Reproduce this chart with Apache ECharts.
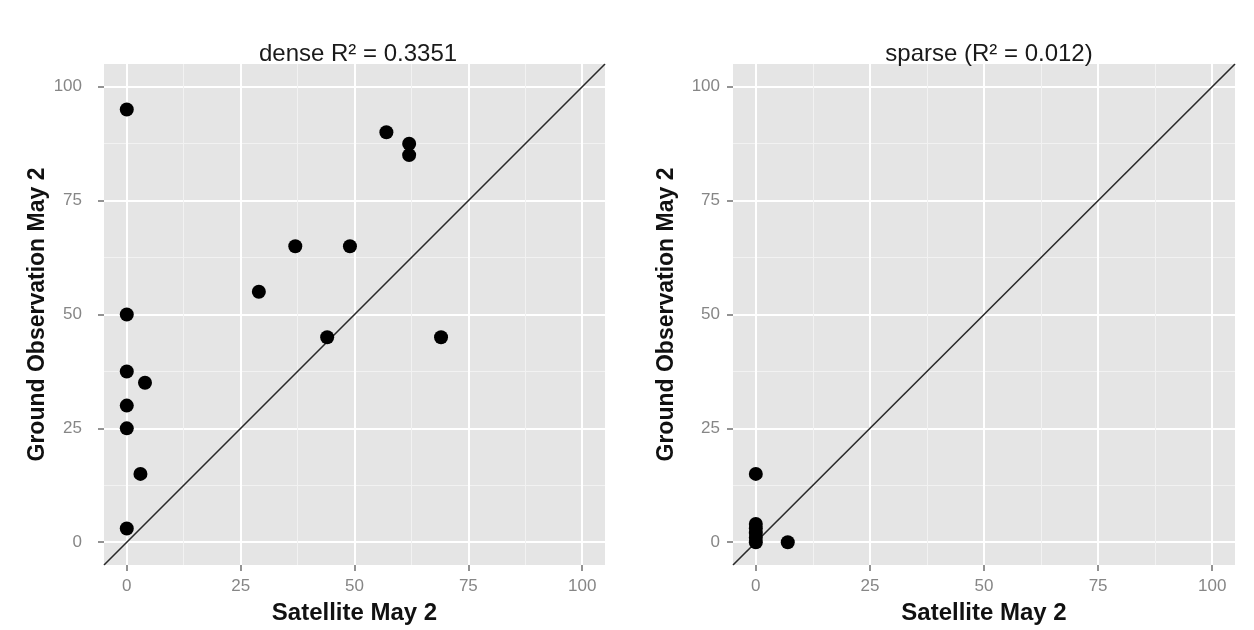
<!DOCTYPE html>
<html>
<head>
<meta charset="utf-8">
<script src="https://cdn.jsdelivr.net/npm/echarts@6/dist/echarts.min.js"></script>
<style>html,body{margin:0;padding:0;background:#fff;}#c{width:1254px;height:630px;}</style>
</head>
<body>
<div id="c"></div>
<script>
const majorTicks = [0, 25, 50, 75, 100];
const minorTicks = [12.5, 37.5, 62.5, 87.5];
const axisRange = [-5, 105];
const refLine = [-5, 105];

const titles = ['dense R\u00B2 = 0.3351', 'sparse (R\u00B2 = 0.012)'];
const xTitle = 'Satellite May 2';
const yTitle = 'Ground Observation May 2';

const denseX = [0, 57, 62, 62, 37, 49, 29, 0, 44, 69, 0, 4, 0, 0, 3, 0];
const denseY = [95, 90, 87.5, 85, 65, 65, 55, 50, 45, 45, 37.5, 35, 30, 25, 15, 3];
const sparseX = [0, 0, 0, 0, 0, 0, 7];
const sparseY = [15, 4, 3, 2, 1, 0, 0];

const FONT = 'Liberation Sans';
const grids = [
  {left: 104, right: 649, top: 64, bottom: 63},
  {left: 733, right: 19, top: 64, bottom: 63}
];
const yLabelMargin = [22, 13];

function mainAxis(dim, gi) {
  const isX = dim === 'x';
  return {
    type: 'value', gridIndex: gi, min: axisRange[0], max: axisRange[1],
    name: isX ? xTitle : yTitle, nameLocation: 'middle',
    nameGap: isX ? 36 : 55,
    nameTextStyle: {fontFamily: FONT, fontSize: isX ? 24 : 23, fontWeight: 'bold', color: '#111'},
    axisLine: {show: false, onZero: false},
    axisTick: {show: true, length: 6, lineStyle: {color: '#707070', width: 1.5}, customValues: majorTicks},
    axisLabel: {show: true, customValues: majorTicks, fontFamily: FONT, fontSize: 17, color: '#868686',
      margin: isX ? 13 : yLabelMargin[gi]},
    splitLine: {show: true, lineStyle: {color: '#ffffff', width: 2}},
    minorSplitLine: {show: false}
  };
}
function minorAxis(dim, gi) {
  return {
    type: 'value', gridIndex: gi, min: axisRange[0], max: axisRange[1],
    axisLine: {show: false, onZero: false},
    axisTick: {show: false, customValues: minorTicks},
    axisLabel: {show: false, customValues: minorTicks},
    splitLine: {show: true, lineStyle: {color: '#F2F2F2', width: 1}}
  };
}
function pts(xs, ys) { return xs.map((x, i) => [x, ys[i]]); }

const option = {
  animation: false,
  backgroundColor: '#ffffff',
  title: titles.map((t, i) => ({
    text: t,
    left: i === 0 ? 353 : 984, top: 37, textAlign: 'center',
    textStyle: {fontFamily: FONT, fontSize: 24, fontWeight: 'normal', color: '#1a1a1a'}
  })),
  grid: grids.map(g => Object.assign({show: true, backgroundColor: '#E5E5E5', borderWidth: 0}, g)),
  xAxis: [mainAxis('x', 0), minorAxis('x', 0), mainAxis('x', 1), minorAxis('x', 1)],
  yAxis: [mainAxis('y', 0), minorAxis('y', 0), mainAxis('y', 1), minorAxis('y', 1)],
  series: [
    {type: 'line', xAxisIndex: 0, yAxisIndex: 0, data: [[refLine[0], refLine[0]], [refLine[1], refLine[1]]],
      symbol: 'none', lineStyle: {color: '#2a2a2a', width: 1.6}, z: 2, silent: true},
    {type: 'line', xAxisIndex: 2, yAxisIndex: 2, data: [[refLine[0], refLine[0]], [refLine[1], refLine[1]]],
      symbol: 'none', lineStyle: {color: '#2a2a2a', width: 1.6}, z: 2, silent: true},
    {type: 'scatter', xAxisIndex: 0, yAxisIndex: 0, data: pts(denseX, denseY),
      symbolSize: 14, itemStyle: {color: '#000', opacity: 1}, z: 3},
    {type: 'scatter', xAxisIndex: 2, yAxisIndex: 2, data: pts(sparseX, sparseY),
      symbolSize: 14, itemStyle: {color: '#000', opacity: 1}, z: 3}
  ]
};
const chart = echarts.init(document.getElementById('c'), null, {renderer: 'canvas'});
chart.setOption(option);
</script>
</body>
</html>
